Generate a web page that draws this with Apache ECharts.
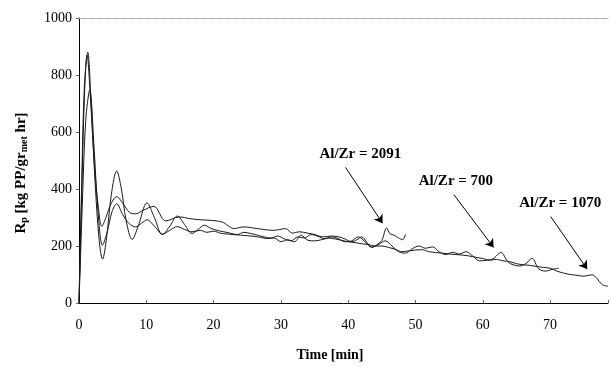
<!DOCTYPE html>
<html>
<head>
<meta charset="utf-8">
<script src="https://cdn.jsdelivr.net/npm/echarts@6/dist/echarts.min.js"></script>
<style>
html,body{margin:0;padding:0;background:#fff;}
#chart{width:611px;height:367px;}
</style>
</head>
<body>
<div id="chart"></div>
<script>
// ---- data ----
const yTicks = [0, 200, 400, 600, 800, 1000];
const xTicks = [0, 10, 20, 30, 40, 50, 60, 70];

const t2091 = [0, 0.4, 0.8, 1.2, 1.7, 2.3, 2.9, 3.4, 4.0, 4.8, 5.6, 6.5, 7.5, 8.4, 9.5, 11.1, 12.9, 14.9, 16.5, 18, 19.6, 21.3, 22.1, 23, 24.5, 26.5, 28.9, 30.7, 31.7, 32.7, 34, 34.9, 36.3, 37.5, 38.6, 39.5, 40.5, 41.3, 42, 42.8, 43.5, 44.3, 45, 45.7, 46.2, 46.8, 47.5, 48.1, 48.5];
const v2091 = [0, 380, 720, 870, 720, 480, 330, 269, 300, 350, 373, 350, 318, 313, 325, 339, 288, 302, 296, 292, 290, 284, 272, 261, 267, 261, 255, 261, 245, 250, 245, 241, 232, 235, 232, 225, 215, 222, 232, 212, 195, 205, 220, 263, 243, 238, 228, 222, 241];

const t700 = [0, 0.4, 0.8, 1.3, 1.8, 2.4, 3.0, 3.5, 4.1, 4.8, 5.6, 6.3, 7.0, 7.9, 8.8, 10.1, 11.2, 12.4, 13.5, 14.6, 15.7, 16.8, 17.7, 18.6, 19.6, 20.5, 21.5, 22.5, 23.5, 24.5, 25.5, 26.5, 27.5, 28.5, 29.5, 30.5, 31.5, 32.5, 33.5, 34.5, 35.5, 36.5, 37.5, 38.5, 39.5, 40.5, 41.5, 42.5, 43.5, 44.5, 45.5, 46.5, 47.5, 48.5, 49.5, 50.5, 51.5, 52.5, 53.5, 54.5, 55.5, 56.5, 57.5, 58.5, 59.5, 60.5, 61.5, 62.7, 63.7, 64.5, 65.5, 66.5, 67.3, 68.3, 69.3, 70.3, 71.3];
const v700 = [0, 420, 760, 880, 700, 420, 220, 154, 230, 380, 463, 400, 290, 223, 270, 351, 300, 240, 270, 305, 275, 244, 258, 273, 262, 255, 250, 245, 240, 248, 244, 238, 232, 228, 235, 225, 218, 232, 228, 240, 234, 225, 232, 226, 215, 218, 232, 215, 196, 205, 218, 200, 180, 175, 190, 200, 192, 197, 180, 170, 178, 172, 180, 165, 148, 150, 155, 177, 145, 134, 130, 140, 157, 120, 112, 118, 122];

const t1070 = [0, 0.5, 1.0, 1.6, 2.2, 2.8, 3.5, 4.2, 4.9, 5.6, 6.5, 7.4, 8.4, 9.3, 10.1, 11.2, 12.4, 13.5, 14.6, 15.7, 16.8, 18, 19, 20, 21, 22, 23, 24, 25, 26, 27, 28, 29, 30, 31, 32, 33, 34, 35, 36, 37, 38, 39, 40, 41, 42, 43, 44, 45, 46, 47, 48, 49, 50, 51, 52, 53, 54, 55, 56, 57, 58, 59, 60, 61, 62, 63, 64, 65, 66, 67, 68, 69, 70, 71, 72, 73, 74, 75, 76.2, 77, 77.7, 78.6];
const v1070 = [0, 350, 640, 747, 560, 330, 203, 250, 320, 348, 310, 280, 267, 280, 292, 270, 242, 255, 268, 258, 250, 255, 248, 252, 245, 242, 240, 238, 236, 234, 230, 226, 228, 215, 222, 215, 238, 220, 218, 222, 228, 225, 220, 215, 212, 208, 205, 200, 200, 195, 188, 180, 183, 186, 187, 180, 177, 175, 172, 170, 168, 165, 160, 156, 150, 153, 148, 145, 138, 134, 132, 128, 125, 122, 112, 105, 100, 97, 94, 99, 85, 65, 59];

const annoLabels = ['Al/Zr = 2091', 'Al/Zr = 700', 'Al/Zr = 1070'];
const annoText = [[41.8, 522], [56.0, 429], [71.5, 349]];
const annoFrom = [[39.6, 476], [55.7, 380], [70.1, 303]];
const annoTo = [[45.1, 280], [61.6, 195], [75.5, 119]];

const xMax = 78.6;
// ---------------------------------------

const serif = '"Liberation Serif","Times New Roman",serif';
const zip = (t, v) => t.map((x, i) => [x, v[i]]);

function mkSeries(name, t, v, k) {
  return {
    name: name,
    type: 'line',
    data: zip(t, v),
    smooth: 0.35,
    showSymbol: false,
    symbol: 'none',
    lineStyle: {color: '#1a1a1a', width: 1},
    silent: true,
    markLine: {
      silent: true,
      symbol: ['none', 'arrow'],
      symbolSize: 8,
      label: {show: false},
      lineStyle: {color: '#000', width: 1, type: 'solid'},
      data: [[{coord: annoFrom[k]}, {coord: annoTo[k]}]]
    },
    markPoint: {
      silent: true,
      symbol: 'circle',
      symbolSize: 1,
      itemStyle: {color: 'rgba(0,0,0,0)'},
      label: {
        show: true, position: 'inside', formatter: annoLabels[k],
        color: '#000', fontFamily: serif, fontWeight: 'bold', fontSize: 15
      },
      data: [{coord: annoText[k]}]
    }
  };
}

const chart = echarts.init(document.getElementById('chart'), null, {renderer: 'canvas'});
chart.setOption({
  animation: false,
  backgroundColor: '#fff',
  grid: {left: 79, right: 0, top: 18, bottom: 60, containLabel: false},
  xAxis: [{
    type: 'value', min: 0, max: xMax, interval: 10,
    name: 'Time [min]', nameLocation: 'middle', nameGap: 45,
    nameTextStyle: {fontFamily: serif, fontWeight: 'bold', fontSize: 14, color: '#000', padding: [0, 27, 0, 0]},
    axisLine: {lineStyle: {color: '#000', width: 1}},
    axisTick: {inside: true, length: 3, lineStyle: {color: '#666'}},
    axisLabel: {
      fontFamily: serif, fontSize: 14, color: '#000', margin: 15,
      formatter: function (v) { return xTicks.indexOf(v) >= 0 ? String(v) : ''; }
    },
    splitLine: {show: false}
  }, {
    type: 'value', min: 0, max: xMax, position: 'top',
    axisLine: {show: true, lineStyle: {color: '#9a9a9a', type: 'dotted', width: 1}},
    axisTick: {show: false}, axisLabel: {show: false}, splitLine: {show: false}
  }],
  yAxis: {
    type: 'value', min: yTicks[0], max: yTicks[yTicks.length - 1], interval: 200,
    name: '{n|R}{s|p}{n| [kg PP/gr}{s|met}{n| hr]}',
    nameLocation: 'middle', nameGap: 50, nameRotate: 90,
    nameTextStyle: {
      fontFamily: serif, fontWeight: 'bold', fontSize: 15, color: '#000',
      padding: [0, 25, 0, 0],
      rich: {
        n: {fontFamily: serif, fontWeight: 'bold', fontSize: 15, color: '#000', lineHeight: 18, verticalAlign: 'bottom'},
        s: {fontFamily: serif, fontWeight: 'bold', fontSize: 10, color: '#000', lineHeight: 8, verticalAlign: 'bottom'}
      }
    },
    axisLine: {show: true, lineStyle: {color: '#000', width: 1}},
    axisTick: {show: true, length: 3, lineStyle: {color: '#666'}},
    axisLabel: {
      fontFamily: serif, fontSize: 14, color: '#000', margin: 7,
      formatter: function (v) { return String(v); }
    },
    splitLine: {show: false}
  },
  series: [
    mkSeries('Al/Zr = 2091', t2091, v2091, 0),
    mkSeries('Al/Zr = 700', t700, v700, 1),
    mkSeries('Al/Zr = 1070', t1070, v1070, 2)
  ]
});
</script>
</body>
</html>
